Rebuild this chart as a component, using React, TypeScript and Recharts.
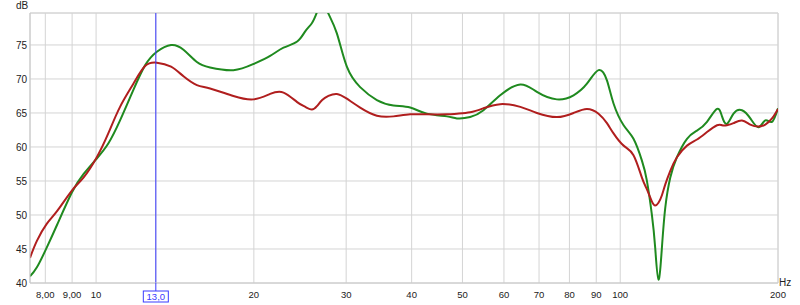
import { LineChart, Line, XAxis, YAxis, CartesianGrid, ReferenceLine } from 'recharts'

// frequency (Hz) of each sample point
const freqs = [
  7.48, 7.71, 8.05, 8.43, 8.99, 9.46, 10.03, 10.55, 11.11, 11.78,
  12.4, 13.06, 13.9, 14.68, 15.57, 16.5, 18.28, 19.96, 21.48, 22.78,
  24.19, 25.06, 25.8, 26.38, 27.0, 27.75, 28.8, 30.09, 31.9, 34.33,
  36.93, 39.74, 42.76, 46.71, 48.8, 51.73, 54.84, 59.02, 64.47, 69.35,
  75.71, 81.46, 86.39, 90.91, 94.33, 97.1, 101.5, 106.0, 110.0, 112.4,
  114.9, 116.6, 118.3, 120.1, 121.9, 124.6, 128.3, 134.1, 140.1, 146.4,
  153.0, 156.4, 159.8, 164.5, 170.7, 177.1, 183.6, 189.1, 194.8, 200,
]

const green = [
  41.0, 42.3, 45.2, 48.6, 53.3, 56.0, 58.3, 60.5, 63.9, 68.4,
  72.0, 74.0, 75.0, 74.3, 72.5, 71.7, 71.3, 72.2, 73.4, 74.6,
  75.5, 77.0, 78.2, 79.8, 81.2, 79.6, 76.7, 71.8, 68.8, 66.9,
  66.1, 65.8, 64.9, 64.5, 64.2, 64.4, 65.4, 67.6, 69.2, 68.1,
  67.0, 67.6, 69.3, 71.3, 69.8, 66.4, 63.2, 61.2, 58.0, 55.1,
  50.1, 45.2, 40.5, 45.2, 51.1, 55.5, 58.5, 61.2, 62.4, 63.7,
  65.6, 64.5, 63.4, 64.9, 65.4, 64.2, 62.9, 63.9, 63.7, 65.7,
]

const red = [
  43.7, 46.2, 48.7, 50.6, 53.6, 55.5, 58.5, 62.0, 65.9, 69.3,
  71.9, 72.4, 71.8, 70.4, 69.1, 68.6, 67.5, 67.0, 67.8, 68.0,
  66.6, 65.9, 65.5, 66.0, 66.9, 67.5, 67.8, 67.1, 65.8, 64.6,
  64.5, 64.8, 64.8, 64.8, 64.9, 65.1, 65.7, 66.3, 65.9, 65.0,
  64.4, 65.0, 65.6, 64.9, 63.5, 62.0, 60.2, 58.8, 55.5, 53.8,
  52.0, 51.4, 51.8, 52.9, 54.5, 56.5, 58.5, 60.2, 61.1, 62.2,
  63.2, 63.2, 63.2, 63.5, 63.9, 63.3, 63.0, 63.3, 64.2, 65.6,
]

const xTicks = [8, 9, 10, 13, 20, 30, 40, 50, 60, 70, 80, 90, 100, 200]
const yTicks = [40, 45, 50, 55, 60, 65, 70, 75]
const cursorFreq = 13

const data = freqs.map((f, i) => ({ f, green: green[i], red: red[i] }))

const font = '"Liberation Sans", Arial, sans-serif'
const gridColor = '#d4d4d4'
const cursorColor = '#3a3aff'

function xLabel(v: number) {
  if (v < 10) return v.toFixed(2).replace('.', ',')
  if (v === cursorFreq) return v.toFixed(1).replace('.', ',')
  return String(v)
}

function XTick(props: any) {
  const { x, y, payload } = props
  const v = payload.value
  if (v === cursorFreq) {
    return (
      <g>
        <line x1={x} y1={y} x2={x} y2={y + 8} stroke={cursorColor} />
        <rect x={x - 12.5} y={y + 8} width={25} height={11} fill="#fff" stroke={cursorColor} />
        <text x={x} y={y + 17} textAnchor="middle" fontSize={9.5} fontFamily={font} fill={cursorColor}>
          {xLabel(v)}
        </text>
      </g>
    )
  }
  return (
    <text x={x} y={y + 15} textAnchor="middle" fontSize={9.5} fontFamily={font} fill="#222">
      {xLabel(v)}
    </text>
  )
}

export default function App() {
  return (
    <div style={{ position: 'absolute', left: 0, top: 0, width: 800, height: 305, background: '#fff' }}>
      <LineChart width={800} height={305} data={data} margin={{ top: 13, right: 22, bottom: 0, left: 0 }}>
        <CartesianGrid stroke={gridColor} />
        <XAxis
          dataKey="f"
          type="number"
          scale="log"
          domain={[7.48, 200]}
          allowDataOverflow
          ticks={xTicks}
          interval={0}
          height={22}
          tickSize={0}
          tickMargin={0}
          tickLine={false}
          axisLine={{ stroke: '#c8c8c8' }}
          tick={<XTick />}
        />
        <YAxis
          type="number"
          domain={[40, 79.7]}
          allowDataOverflow
          ticks={yTicks}
          interval={0}
          width={30}
          tickSize={0}
          tickMargin={3}
          tickLine={false}
          axisLine={{ stroke: '#c8c8c8' }}
          tick={{ fontSize: 10, fontFamily: font, fill: '#222' }}
        />
        <ReferenceLine y={79.7} stroke={gridColor} />
        <ReferenceLine x={200} stroke={gridColor} />
        <Line type="natural" dataKey="green" stroke="#1f8a1f" strokeWidth={2} dot={false} isAnimationActive={false} />
        <Line type="natural" dataKey="red" stroke="#b01e1e" strokeWidth={2} dot={false} isAnimationActive={false} />
        <ReferenceLine x={cursorFreq} stroke={cursorColor} />
      </LineChart>
      <div style={{ position: 'absolute', left: 16, top: 0, fontSize: 10, fontFamily: font, color: '#222' }}>dB</div>
      <div style={{ position: 'absolute', left: 779, top: 277, fontSize: 10, fontFamily: font, color: '#222' }}>Hz</div>
    </div>
  )
}
